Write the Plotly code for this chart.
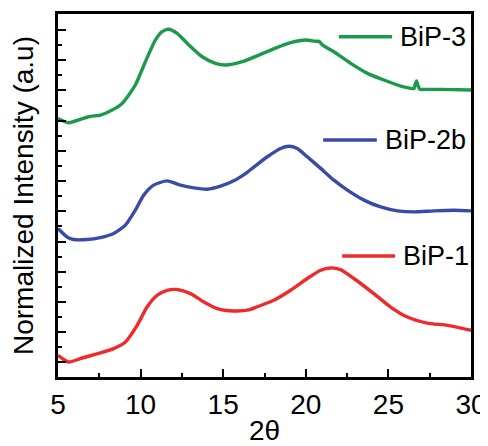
import plotly.graph_objects as go

# 2theta (deg) and normalized intensity (offset stacked, arbitrary units)
bip3_x = [5.0, 5.64, 6.85, 7.56, 8.07, 8.88, 9.68, 10.29, 10.90, 11.30, 11.70, 12.21,
          12.92, 13.73, 14.53, 15.14, 16.15, 17.16, 18.17, 19.08, 19.99, 20.6, 20.8,
          21.0, 21.70, 22.72, 23.73, 24.73, 25.75, 26.36, 26.55, 26.62, 26.70, 26.78,
          26.90, 27.2, 28.17, 30.0]
bip3_y = [16.15, 15.86, 16.26, 16.37, 16.59, 17.14, 18.36, 19.90, 21.34, 21.89, 22.05, 21.78,
          21.01, 20.23, 19.79, 19.68, 19.90, 20.34, 20.80, 21.16, 21.34, 21.25, 21.25,
          21.02, 20.56, 19.79, 19.13, 18.69, 18.29, 18.14, 18.12, 18.40, 18.62, 18.35,
          18.08, 18.07, 18.07, 18.03]

bip2b_x = [5.0, 5.55, 5.95, 6.76, 7.56, 8.37, 9.08, 9.68, 10.19, 10.79, 11.61, 12.41,
           13.22, 14.03, 14.84, 15.64, 16.05, 16.45, 16.85, 17.67, 18.47, 18.98, 19.48,
           20.09, 20.90, 21.70, 22.52, 23.52, 24.53, 25.55, 26.55, 27.76, 28.98, 30.0]
bip2b_y = [8.86, 8.30, 8.13, 8.13, 8.26, 8.53, 9.08, 10.07, 11.07, 11.73, 12.01, 11.73,
           11.55, 11.46, 11.66, 12.02, 12.28, 12.58, 12.92, 13.61, 14.16, 14.31, 14.16,
           13.61, 12.84, 12.06, 11.40, 10.74, 10.29, 10.03, 9.96, 10.03, 10.07, 10.03]

bip1_x = [5.0, 5.64, 6.35, 7.56, 8.37, 9.08, 9.79, 10.39, 11.0, 11.61, 12.21, 13.02,
          13.83, 14.64, 15.64, 16.55, 17.06, 18.07, 19.08, 20.09, 20.90, 21.50, 22.10,
          22.91, 24.12, 25.13, 26.15, 27.35, 28.58, 30.0]
bip1_y = [0.46, 0.02, 0.25, 0.62, 0.91, 1.35, 2.45, 3.66, 4.44, 4.77, 4.82, 4.55,
          4.00, 3.56, 3.40, 3.47, 3.68, 4.11, 4.77, 5.55, 6.10, 6.25, 6.14,
          5.55, 4.55, 3.66, 3.00, 2.60, 2.45, 2.12]

names = ["BiP-3", "BiP-2b", "BiP-1"]
colors = ["#1c9a4b", "#3a4aa8", "#ee2a2a"]

FONT = "Liberation Sans, Arial, sans-serif"

fig = go.Figure()
for xs, ys, c, n in [(bip3_x, bip3_y, colors[0], names[0]),
                     (bip2b_x, bip2b_y, colors[1], names[1]),
                     (bip1_x, bip1_y, colors[2], names[2])]:
    fig.add_trace(go.Scatter(x=xs, y=ys, mode="lines", name=n,
                             line=dict(color=c, width=3.4, shape="spline", smoothing=0.6),
                             showlegend=False))

# legend-like labels placed beside each curve
leg = [(0.680, 0.809, 0.937), (0.642, 0.772, 0.653), (0.688, 0.816, 0.333)]
for (x0, x1, y), c, n in zip(leg, colors, names):
    fig.add_shape(type="line", xref="paper", yref="paper", x0=x0, x1=x1, y0=y, y1=y,
                  line=dict(color=c, width=3.5))
    fig.add_annotation(xref="paper", yref="paper", x=x1 + 0.015, y=y, text=n,
                       showarrow=False, xanchor="left", yanchor="middle",
                       font=dict(family=FONT, size=27, color="black"))

axis_common = dict(showline=True, linecolor="black", linewidth=2.8, mirror=True,
                   showgrid=False, zeroline=False, ticks="inside", tickcolor="black",
                   tickwidth=2.2, ticklen=8, automargin=False)

fig.update_xaxes(range=[5, 30], tick0=5, dtick=5,
                 tickfont=dict(family=FONT, size=28, color="black"),
                 title=dict(text="2θ", font=dict(family=FONT, size=28, color="black"),
                            standoff=11),
                 minor=dict(dtick=2.5, ticks="inside", ticklen=4, tickwidth=2.2,
                            tickcolor="black"),
                 **axis_common)
fig.update_yaxes(range=[-0.97, 23.06], tick0=0, dtick=2, showticklabels=False,
                 title=dict(text="Normalized Intensity (a.u)",
                            font=dict(family=FONT, size=28, color="black"), standoff=19),
                 minor=dict(dtick=1, ticks="inside", ticklen=4.5, tickwidth=2.2,
                            tickcolor="black"),
                 **axis_common)

# page body adds an 8px margin, so the figure is 8px smaller each way
fig.update_layout(width=480, height=438, margin=dict(l=50, r=17, t=6, b=69),
                  plot_bgcolor="white", paper_bgcolor="white")

fig.write_html("out.html")
